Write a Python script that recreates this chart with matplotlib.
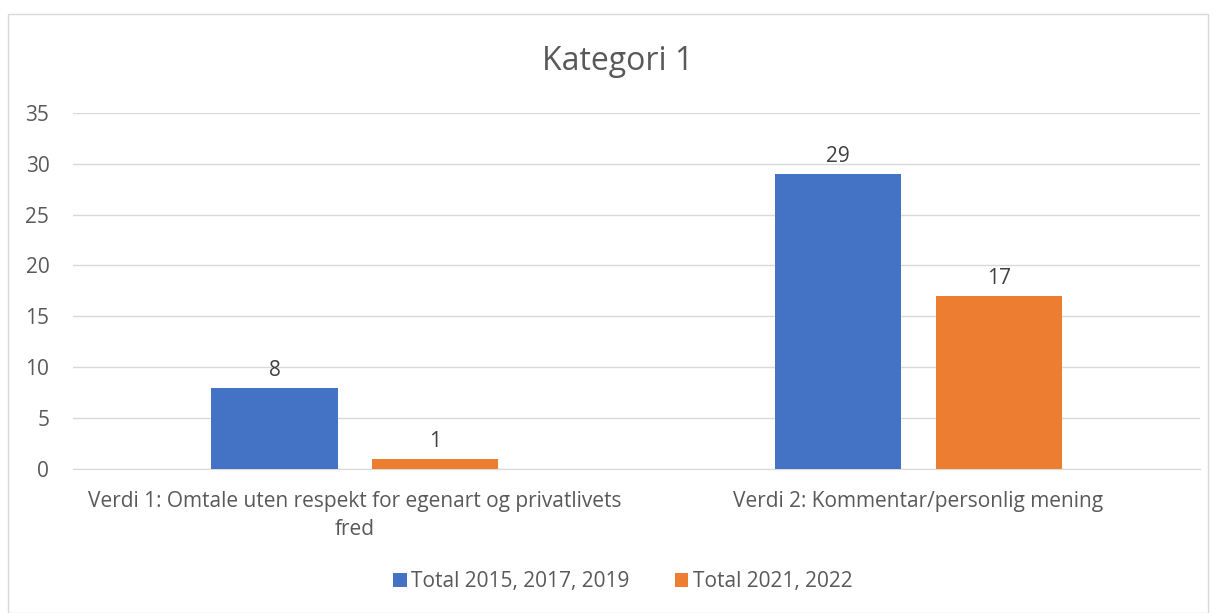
import matplotlib.pyplot as plt
import numpy as np
from matplotlib.patches import Rectangle

categories = ["Verdi 1: Omtale uten respekt for egenart og privatlivets\nfred",
              "Verdi 2: Kommentar/personlig mening"]
series_names = ["Total 2015, 2017, 2019", "Total 2021, 2022"]
values_a = [8, 29]
values_b = [1, 17]
colors = ["#4472C4", "#ED7D31"]
text_col = "#595959"

plt.rcParams['font.family'] = ['Open Sans', 'DejaVu Sans']

fig = plt.figure(figsize=(12.16, 6.13), dpi=100)
ax = fig.add_axes([0.060, 0.235, 0.927, 0.581])

fig.patches.append(Rectangle((8 / 1216, 0), 1200 / 1216, 599 / 613,
                             transform=fig.transFigure, fill=False,
                             edgecolor="#d9d9d9", linewidth=1))

x = np.arange(len(categories))
w = 0.224
off = 0.1425
b1 = ax.bar(x - off, values_a, w, color=colors[0], label=series_names[0], zorder=3)
b2 = ax.bar(x + off, values_b, w, color=colors[1], label=series_names[1], zorder=3)
for bars in (b1, b2):
    ax.bar_label(bars, padding=5, fontsize=15, color="#404040")

ax.set_xlim(-0.5, 1.5)
ax.set_ylim(0, 35)
ax.set_yticks(range(0, 36, 5))
ax.grid(axis="y", color="#d9d9d9", linewidth=1, zorder=0)
for s in ["top", "right", "left"]:
    ax.spines[s].set_visible(False)
ax.spines["bottom"].set_color("#d9d9d9")
ax.tick_params(axis="both", length=0, labelsize=15, labelcolor=text_col)
ax.tick_params(axis="y", pad=17)
ax.tick_params(axis="x", pad=16)
ax.set_xticks(x)
ax.set_xticklabels(categories, linespacing=1.45)

fig.text(0.508, 0.899, "Kategori 1", ha="center", va="center", fontsize=23, color=text_col)
fig.legend(loc="center", bbox_to_anchor=(0.512, 0.051), ncol=2, frameon=False,
           fontsize=15, labelcolor=text_col, handlelength=0.65, handleheight=0.65,
           handletextpad=0.2, columnspacing=2.2)

fig.savefig("out.png", dpi=100)
